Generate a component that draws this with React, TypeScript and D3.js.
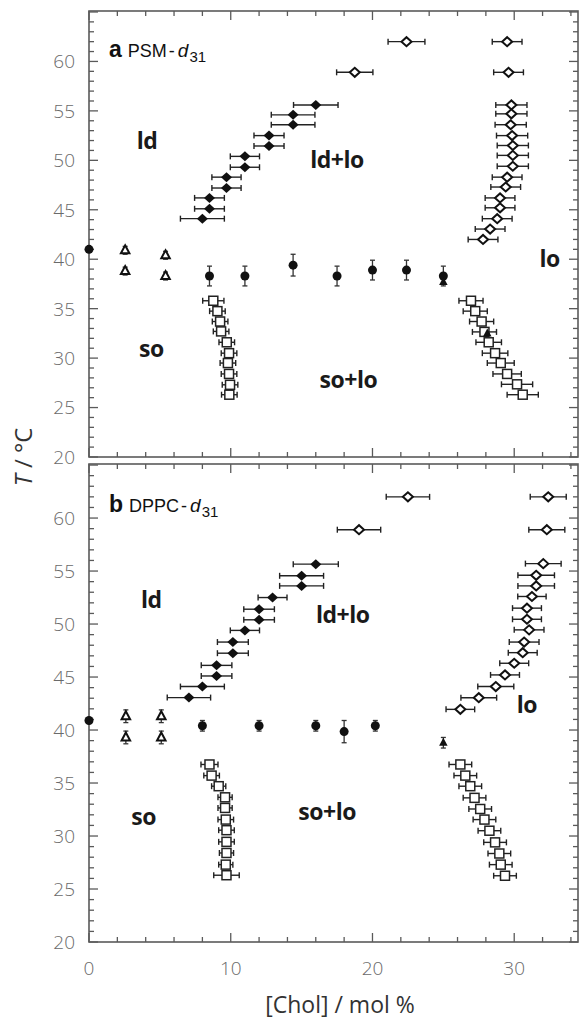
import React from 'react';
import { scaleLinear, range } from 'd3';

// [Chol] mol %, T (°C), error
const aCircles = [[0, 41.0, 0], [8.5, 38.3, 1.0], [11.0, 38.3, 1.0], [14.4, 39.4, 1.1], [17.5, 38.3, 1.0], [20.0, 38.9, 1.0], [22.4, 38.9, 1.0], [25.0, 38.3, 1.0]];
const aFilledTri = [[25.0, 37.7, 0], [28.1, 32.5, 0]];
const aOpenTri = [[2.55, 40.9, 0.4], [2.55, 38.8, 0.4], [5.4, 40.4, 0.4], [5.4, 38.3, 0.4]];
const aLd = [[8.0, 44.1, 1.55], [8.5, 45.1, 1.05], [8.5, 46.2, 1.05], [9.7, 47.2, 1.03], [9.7, 48.3, 1.03], [11.0, 49.3, 1.03], [11.0, 50.4, 1.03], [12.7, 51.45, 1.06], [12.7, 52.5, 1.06], [14.4, 53.6, 1.54], [14.4, 54.6, 1.54], [16.0, 55.6, 1.57]];
const aLo = [[18.75, 58.9, 1.28], [22.4, 62.0, 1.3], [29.5, 62.0, 1.05], [29.6, 58.9, 1.05], [29.8, 55.6, 1.1], [29.8, 54.7, 1.1], [29.75, 53.6, 1.1], [29.85, 52.5, 1.1], [29.9, 51.5, 1.1], [29.9, 50.5, 1.1], [29.9, 49.4, 1.1], [29.5, 48.3, 1.05], [29.4, 47.3, 1.05], [29.0, 46.2, 1.05], [29.0, 45.2, 1.05], [28.8, 44.1, 1.05], [28.3, 43.05, 1.05], [27.8, 42.0, 1.05]];
const aSoLeft = [[8.77, 35.8, 0.75], [9.06, 34.75, 0.55], [9.25, 33.7, 0.55], [9.32, 32.7, 0.55], [9.72, 31.6, 0.55], [9.88, 30.5, 0.55], [9.8, 29.5, 0.55], [9.88, 28.4, 0.55], [9.95, 27.3, 0.55], [9.9, 26.3, 0.55]];
const aSoRight = [[26.95, 35.8, 0.85], [27.25, 34.75, 0.85], [27.7, 33.7, 0.85], [27.9, 32.65, 0.85], [28.2, 31.6, 0.9], [28.65, 30.5, 0.9], [29.05, 29.5, 0.95], [29.5, 28.4, 1.0], [30.2, 27.35, 1.1], [30.6, 26.3, 1.1]];

const bCircles = [[0, 40.9, 0], [8.0, 40.4, 0.5], [12.0, 40.4, 0.5], [16.0, 40.4, 0.5], [18.0, 39.85, 1.05], [20.2, 40.4, 0.5]];
const bFilledTri = [[25.0, 38.8, 0.5]];
const bOpenTri = [[2.6, 41.3, 0.6], [2.6, 39.3, 0.6], [5.1, 41.3, 0.6], [5.1, 39.3, 0.6]];
const bLd = [[7.05, 43.06, 1.53], [8.0, 44.1, 1.55], [9.0, 45.1, 1.08], [9.0, 46.1, 1.08], [10.15, 47.25, 1.09], [10.15, 48.3, 1.09], [11.0, 49.4, 1.03], [12.0, 50.4, 1.08], [12.0, 51.4, 1.08], [12.95, 52.5, 1.02], [15.0, 53.6, 1.55], [15.0, 54.55, 1.55], [16.0, 55.65, 1.59]];
const bLo = [[19.05, 58.9, 1.53], [22.5, 62.0, 1.53], [32.4, 62.0, 1.27], [32.3, 58.9, 1.27], [32.05, 55.7, 1.26], [31.55, 54.6, 1.29], [31.55, 53.6, 1.29], [31.25, 52.6, 1.0], [30.9, 51.5, 1.02], [30.9, 50.45, 1.02], [31.05, 49.45, 1.05], [30.7, 48.3, 1.05], [30.6, 47.3, 1.02], [30.0, 46.3, 1.02], [29.35, 45.2, 1.02], [28.7, 44.1, 1.27], [27.5, 43.05, 1.26], [26.2, 41.95, 1.01]];
const bSoLeft = [[8.5, 36.75, 0.6], [8.65, 35.7, 0.55], [9.15, 34.7, 0.5], [9.6, 33.65, 0.5], [9.6, 32.65, 0.5], [9.65, 31.55, 0.55], [9.7, 30.55, 0.55], [9.7, 29.45, 0.55], [9.7, 28.4, 0.5], [9.65, 27.3, 0.5], [9.7, 26.3, 0.9]];
const bSoRight = [[26.2, 36.75, 0.8], [26.55, 35.7, 0.8], [26.9, 34.7, 0.8], [27.2, 33.6, 0.8], [27.6, 32.55, 0.8], [27.9, 31.55, 0.8], [28.25, 30.5, 0.8], [28.65, 29.4, 0.8], [28.95, 28.35, 0.8], [29.05, 27.3, 0.8], [29.35, 26.25, 0.8]];

const xTicks = [0, 10, 20, 30];
const yTicks = [20, 25, 30, 35, 40, 45, 50, 55, 60];

const left = 89;
const right = 578;
const frameColor = '#5a5a5a';
const tickColor = '#6a6a6a';

const xScale = scaleLinear().domain([0, 34.5]).range([left, right]);

const panels = [
  {
    key: 'a', name: 'PSM', top: 11, bottom: 457, titleY: 56.5,
    circles: aCircles, filledTri: aFilledTri, openTri: aOpenTri, ld: aLd, lo: aLo, soL: aSoLeft, soR: aSoRight,
    labels: [
      { t: 'ld', x: 4.1, y: 51.1 }, { t: 'ld+lo', x: 17.5, y: 49.2 }, { t: 'lo', x: 32.5, y: 39.2 },
      { t: 'so', x: 4.4, y: 30.1 }, { t: 'so+lo', x: 18.3, y: 27.0 },
    ],
  },
  {
    key: 'b', name: 'DPPC', top: 464, bottom: 942, titleY: 512,
    circles: bCircles, filledTri: bFilledTri, openTri: bOpenTri, ld: bLd, lo: bLo, soL: bSoLeft, soR: bSoRight,
    labels: [
      { t: 'ld', x: 4.4, y: 51.5 }, { t: 'ld+lo', x: 17.9, y: 50.1 }, { t: 'lo', x: 30.9, y: 41.6 },
      { t: 'so', x: 3.85, y: 31.0 }, { t: 'so+lo', x: 16.8, y: 31.5 },
    ],
  },
];

function XErr({ x, y, e, xs, ys, cap = 3 }) {
  const x0 = xs(x - e), x1 = xs(x + e), py = ys(y);
  return (
    <g stroke="#222" strokeWidth={1.4}>
      <line x1={x0} x2={x1} y1={py} y2={py} />
      <line x1={x0} x2={x0} y1={py - cap} y2={py + cap} />
      <line x1={x1} x2={x1} y1={py - cap} y2={py + cap} />
    </g>
  );
}

function YErr({ x, y, e, xs, ys, cap = 2.5 }) {
  if (!e) return null;
  const y0 = ys(y - e), y1 = ys(y + e), px = xs(x);
  return (
    <g stroke="#333" strokeWidth={1.3}>
      <line x1={px} x2={px} y1={y0} y2={y1} />
      <line x1={px - cap} x2={px + cap} y1={y0} y2={y0} />
      <line x1={px - cap} x2={px + cap} y1={y1} y2={y1} />
    </g>
  );
}

const diamondPath = (w, h) => `M${-w},0L0,${-h}L${w},0L0,${h}Z`;
const triPath = (s) => `M0,${-s}L${s * 0.85},${s * 0.6}L${-s * 0.85},${s * 0.6}Z`;

function Panel({ p }) {
  const ys = scaleLinear().domain([20, 65.1]).range([p.bottom, p.top]);
  const minorX = range(0, 35, 2);
  const minorY = range(20, 66, 1);
  return (
    <g>
      <rect x={left} y={p.top} width={right - left} height={p.bottom - p.top} fill="none" stroke={frameColor} strokeWidth={1.6} />
      {minorX.map((v) => {
        const len = v % 10 === 0 ? 9 : 5;
        return (
          <g key={'x' + v} stroke={frameColor} strokeWidth={1.3}>
            <line x1={xScale(v)} x2={xScale(v)} y1={p.top} y2={p.top + len} />
            <line x1={xScale(v)} x2={xScale(v)} y1={p.bottom} y2={p.bottom - len} />
          </g>
        );
      })}
      {minorY.map((v) => {
        const len = v % 5 === 0 ? 9 : 5;
        return (
          <g key={'y' + v} stroke={frameColor} strokeWidth={1.3}>
            <line x1={left} x2={left + len} y1={ys(v)} y2={ys(v)} />
            <line x1={right} x2={right - len} y1={ys(v)} y2={ys(v)} />
          </g>
        );
      })}
      {yTicks.map((v) => (
        <text key={'yl' + v} x={left - 14} y={ys(v)} dy="0.36em" textAnchor="end" fontSize={19} fill={tickColor} fontFamily="'Open Sans', sans-serif" fontWeight={300}>{v}</text>
      ))}

      <text x={109} y={p.titleY} fontFamily="'Liberation Sans', Arial, sans-serif" fill="#111">
        <tspan fontSize={23} fontWeight={700}>{p.key}</tspan>
        <tspan fontSize={18} dx={6}>{p.name}</tspan>
        <tspan fontSize={18} dx={2}>-</tspan>
        <tspan fontSize={19} dx={3} fontStyle="italic">d</tspan>
        <tspan fontSize={15} dy={5} dx={1}>31</tspan>
      </text>

      {p.labels.map((l) => (
        <text key={l.t} x={xScale(l.x)} y={ys(l.y)} textAnchor="middle" fontSize={23} fontWeight={700} fill="#1a1a1a" fontFamily="'Open Sans', sans-serif" letterSpacing={-0.5}>{l.t}</text>
      ))}

      {[p.ld, p.lo, p.soL, p.soR].map((s, si) => s.map((d, i) => (
        <XErr key={si + '-' + i} x={d[0]} y={d[1]} e={d[2]} xs={xScale} ys={ys} />
      )))}
      {[p.circles, p.openTri, p.filledTri].map((s, si) => s.map((d, i) => (
        <YErr key={'ye' + si + '-' + i} x={d[0]} y={d[1]} e={d[2]} xs={xScale} ys={ys} />
      )))}

      {p.ld.map((d, i) => (
        <path key={'ld' + i} d={diamondPath(5.5, 5)} transform={`translate(${xScale(d[0])},${ys(d[1])})`} fill="#111" />
      ))}
      {p.lo.map((d, i) => (
        <path key={'lo' + i} d={diamondPath(5, 4.5)} transform={`translate(${xScale(d[0])},${ys(d[1])})`} fill="#fff" stroke="#111" strokeWidth={2} />
      ))}
      {[...p.soL, ...p.soR].map((d, i) => (
        <rect key={'so' + i} x={xScale(d[0]) - 4.5} y={ys(d[1]) - 4.5} width={9} height={9} fill="#fff" stroke="#222" strokeWidth={1.5} />
      ))}
      {p.circles.map((d, i) => (
        <circle key={'c' + i} cx={xScale(d[0])} cy={ys(d[1])} r={4.5} fill="#111" />
      ))}
      {p.openTri.map((d, i) => (
        <path key={'ot' + i} d={triPath(5)} transform={`translate(${xScale(d[0])},${ys(d[1])})`} fill="#fff" stroke="#111" strokeWidth={2} />
      ))}
      {p.filledTri.map((d, i) => (
        <path key={'ft' + i} d={triPath(5)} transform={`translate(${xScale(d[0])},${ys(d[1])})`} fill="#111" />
      ))}
    </g>
  );
}

export default function App() {
  const bottom = panels[1].bottom;
  return (
    <svg width={583} height={1023} style={{ position: 'absolute', left: 0, top: 0, background: '#fff' }}>
      {panels.map((p) => <Panel key={p.key} p={p} />)}
      {xTicks.map((v) => (
        <text key={v} x={xScale(v)} y={bottom + 33} textAnchor="middle" fontSize={19} fill={tickColor} fontFamily="'Open Sans', sans-serif" fontWeight={300}>{v}</text>
      ))}
      <text x={340} y={1013} textAnchor="middle" fontSize={23} fill="#333" fontFamily="'Open Sans', sans-serif">[Chol] / mol %</text>
      <text transform="translate(32,457) rotate(-90)" textAnchor="middle" fontSize={24} fill="#333" fontFamily="'Open Sans', sans-serif">
        <tspan fontStyle="italic">T</tspan> / °C
      </text>
    </svg>
  );
}
